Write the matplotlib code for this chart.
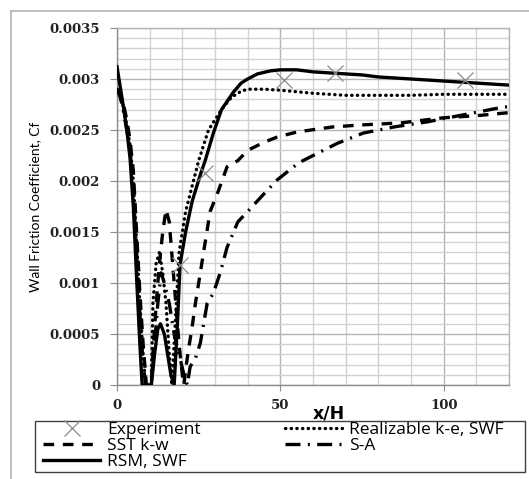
import matplotlib
matplotlib.use("Agg")
import matplotlib.pyplot as plt
from matplotlib.lines import Line2D
from matplotlib.patches import Rectangle
from matplotlib.ticker import MultipleLocator, FixedLocator, FixedFormatter

# experiment points
exp_x = [19.3, 27, 51, 66.6, 106.4]
exp_cf = [0.00118, 0.00208, 0.00299, 0.00306, 0.00299]

# RSM, SWF (solid)
rsm_x = [0, 1, 2, 3, 4, 5, 6, 7, 7.7, 10.5, 11.5, 12.5, 13.3, 14.5, 15.5, 16.5, 17.5,
         18.5, 19.3, 21, 23, 25.5, 27, 29.5, 32, 35.6, 38, 40, 43, 47, 50, 55, 60, 65, 70,
         75, 80, 90, 100, 110, 120]
rsm_cf = [0.00312, 0.00292, 0.00272, 0.0025, 0.00222, 0.00175, 0.00105, 0.0004, 0.0, 0.0,
          0.0003, 0.00055, 0.0006, 0.0005, 0.0003, 0.0001, 0.0,
          0.0006, 0.00118, 0.0015, 0.0018, 0.00206, 0.0022, 0.00247, 0.0027, 0.00287,
          0.00296, 0.003, 0.00305, 0.00308, 0.00309, 0.00309, 0.00307, 0.00306, 0.00305,
          0.00304, 0.00302, 0.003, 0.00298, 0.00296, 0.00294]

# Realizable k-e, SWF (dotted)
rke_x = [0, 1, 2, 3, 4, 5, 6, 7, 8, 8.8, 10.5, 11, 12, 13, 14, 15, 16, 16.8,
         18, 19, 21, 25, 28, 32, 35, 38, 40, 45, 50, 60, 70, 80, 90, 100, 110, 120]
rke_cf = [0.0029, 0.00284, 0.00272, 0.00255, 0.00235, 0.002, 0.0014, 0.0008, 0.0003, 0.0, 0.0,
          0.0008, 0.0012, 0.0013, 0.0011, 0.0008, 0.0003, 0.0,
          0.0007, 0.0013, 0.0017, 0.0022, 0.0025, 0.0027, 0.00282, 0.00288, 0.0029,
          0.0029, 0.00289, 0.00286, 0.00284, 0.00284, 0.00284, 0.00285, 0.00285, 0.00285]

# SST k-w (dashed)
sst_x = [0, 1, 2, 3, 4, 5, 6, 7, 8, 9, 10.5, 11, 12, 13, 14, 15, 16, 17, 18, 19, 20, 20.5,
         21, 22, 23, 24, 25, 26.5, 28.5, 31, 33.7, 37, 40, 45, 49, 55, 66, 75, 87, 100,
         110, 120]
sst_cf = [0.0029, 0.00286, 0.00275, 0.0026, 0.0024, 0.0021, 0.0015, 0.0009, 0.0004, 0.0, 0.0,
          0.0003, 0.0008, 0.0012, 0.0015, 0.00172, 0.0016, 0.0012, 0.0008, 0.0004, 0.0001, 0.0,
          0.00015, 0.00037, 0.00057, 0.0008, 0.001, 0.0013, 0.0017, 0.0019, 0.00214,
          0.0022, 0.0023, 0.00238, 0.00243, 0.00248, 0.00253, 0.00255, 0.00257, 0.00262,
          0.00264, 0.00267]

# S-A (dash-dot)
sa_x = [0, 1, 2, 3, 4, 5, 6, 7, 8, 8.8, 10.5, 11.5, 12.5, 13.5, 14.5, 16, 17.5, 19, 20.5, 21.5,
        22.4, 24, 25.5, 27.6, 29.5, 31.6, 33.7, 37, 40, 44, 49, 55.7, 67.5, 75.4, 84.8,
        95, 103, 117.5, 120]
sa_cf = [0.0029, 0.00282, 0.00268, 0.0025, 0.0023, 0.0019, 0.0013, 0.0007, 0.0002, 0.0, 0.0,
         0.0004, 0.0008, 0.0011, 0.001, 0.0008, 0.0005, 0.0003, 0.0001, 0.0,
         0.00018, 0.00026, 0.00041, 0.0008, 0.0009, 0.0011, 0.00135, 0.0016, 0.0017,
         0.00184, 0.00201, 0.00218, 0.00237, 0.00247, 0.00253, 0.00258, 0.00263,
         0.00272, 0.00273]

y_ticks = [0, 0.0005, 0.001, 0.0015, 0.002, 0.0025, 0.003, 0.0035]
y_labels = ['0', '0.0005', '0.001', '0.0015', '0.002', '0.0025', '0.003', '0.0035']
x_ticks = [0, 50, 100]
x_labels = ['0', '50', '100']

W, H = 529, 479
fig = plt.figure(figsize=(W / 100, H / 100), dpi=100)
ax = fig.add_axes([117 / W, (H - 385) / H, (509 - 117) / W, (385 - 28) / H])

lw = 2.4
dotted = (0, (0.1, 1.6))
dashed = (0, (3.2, 2.6))
dashdot = (0, (4.5, 2.2, 0.6, 2.2))
ax.plot(rsm_x, rsm_cf, color='black', lw=lw, ls='-', zorder=5)
ax.plot(rke_x, rke_cf, color='black', lw=lw, ls=dotted, dash_capstyle='round', zorder=4)
ax.plot(sst_x, sst_cf, color='black', lw=lw, ls=dashed, zorder=4)
ax.plot(sa_x, sa_cf, color='black', lw=lw, ls=dashdot, zorder=4)
ax.plot(exp_x, exp_cf, ls='none', marker='x', ms=11, mew=0.9, color='#8a8a8a', zorder=6)

ax.set_xlim(0, 120)
ax.set_ylim(0, 0.0035)
ax.xaxis.set_major_locator(FixedLocator(x_ticks))
ax.xaxis.set_major_formatter(FixedFormatter(x_labels))
ax.xaxis.set_minor_locator(MultipleLocator(10))
ax.yaxis.set_major_locator(FixedLocator(y_ticks))
ax.yaxis.set_major_formatter(FixedFormatter(y_labels))
ax.yaxis.set_minor_locator(MultipleLocator(0.0001))

ax.grid(which='major', color='#b4b4b4', lw=1.0)
ax.grid(which='minor', color='#d2d2d2', lw=1.0)
ax.set_axisbelow(True)
for s in ax.spines.values():
    s.set_color('#b4b4b4')
    s.set_linewidth(1.0)
ax.spines['left'].set_color('#8c8c8c')
ax.spines['bottom'].set_color('#8c8c8c')

ax.tick_params(which='minor', length=0)
ax.tick_params(axis='y', which='major', length=5, color='#8c8c8c', pad=7.2)
ax.tick_params(axis='x', which='major', length=4, color='#8c8c8c', pad=6.4)
for t in ax.get_xticklabels() + ax.get_yticklabels():
    t.set_family('DejaVu Serif')
    t.set_fontweight('bold')
    t.set_fontsize(9.5)
    t.set_color('#222222')

ax.set_xlabel('x/H', fontsize=12.5, fontweight='bold', family='DejaVu Sans')
ax.xaxis.set_label_coords((329 - 117) / (509 - 117), -(404 - 385) / (385 - 28))
ax.set_ylabel('Wall Friction Coefficient, Cf', fontsize=10, family='Lato')
ax.yaxis.set_label_coords(-(117 - 41) / (509 - 117), (385 - 206.5) / (385 - 28))

# legend
handles = [
    Line2D([], [], ls='none', marker='x', ms=11, mew=0.9, color='#8a8a8a'),
    Line2D([], [], color='black', lw=lw, ls=dashed),
    Line2D([], [], color='black', lw=lw, ls='-'),
    Line2D([], [], color='black', lw=lw, ls=dotted, dash_capstyle='round'),
    Line2D([], [], color='black', lw=lw, ls=dashdot),
]
labels = ['Experiment', 'SST k-w', 'RSM, SWF', 'Realizable k-e, SWF', 'S-A']
leg = fig.legend(handles, labels, loc='upper left', ncol=2, frameon=False,
                 bbox_to_anchor=(43 / W, (H - 422) / H),
                 borderaxespad=0, borderpad=0,
                 prop={'family': 'Open Sans', 'size': 12.5}, handlelength=3.3,
                 handletextpad=0.4, labelspacing=0.0, columnspacing=4.83)
fig.add_artist(Rectangle((35 / W, (H - 472) / H), 490 / W, 51 / H,
                         transform=fig.transFigure, fill=False,
                         edgecolor='#404040', lw=1.0))

# outer frame (top and left edges visible)
fig.add_artist(Line2D([11 / W, 1], [1 - 11 / H, 1 - 11 / H], color='#b4b4b4', lw=1.2))
fig.add_artist(Line2D([11 / W, 11 / W], [0, 1 - 11 / H], color='#b4b4b4', lw=1.2))

fig.savefig('out.png', dpi=100)
